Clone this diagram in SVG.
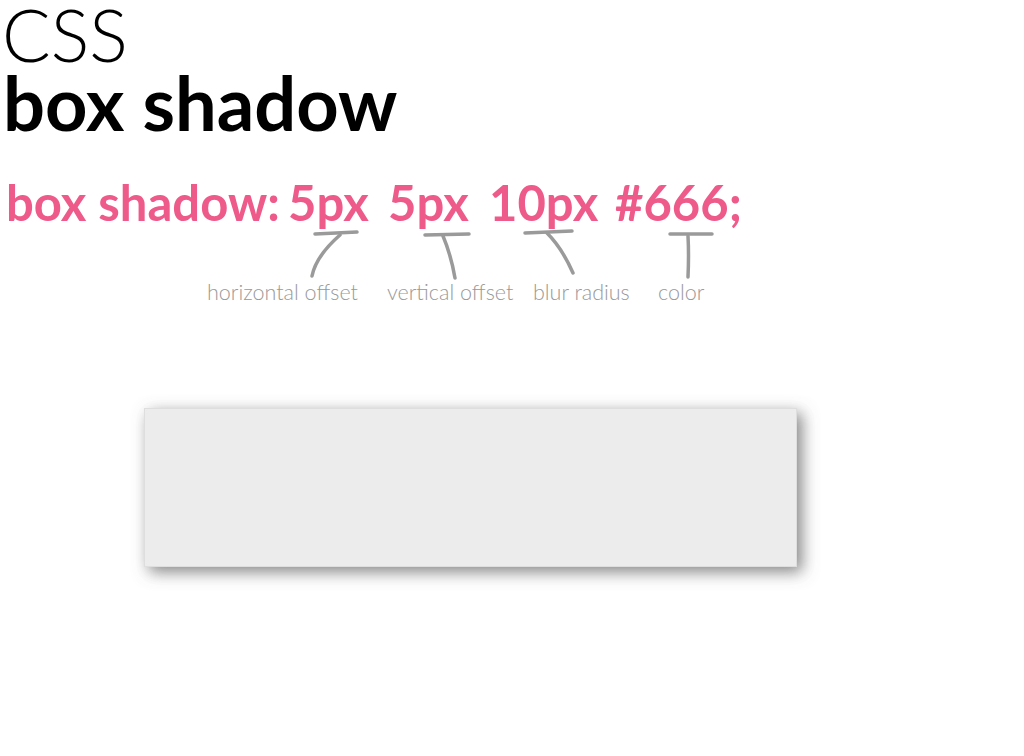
<svg xmlns="http://www.w3.org/2000/svg" width="1024" height="756" viewBox="0 0 1024 756">
<defs>
<style>
.t1{font-family:Lato,"Liberation Sans",sans-serif;font-weight:300;font-size:72px;fill:#000}
.t2{font-family:Lato,"Liberation Sans",sans-serif;font-weight:700;font-size:74px;fill:#000}
.pk{font-family:Lato,"Liberation Sans",sans-serif;font-weight:700;font-size:49px;fill:#ee5a8a}
.lb{font-family:Lato,"Liberation Sans",sans-serif;font-weight:300;font-size:21.5px;fill:#999}
.st{fill:none;stroke:#9a9a9a;stroke-width:3.5;stroke-linecap:round}
</style>
<filter id="sh" x="-15%" y="-40%" width="135%" height="190%">
<feDropShadow dx="5" dy="5" stdDeviation="8" flood-color="#666" flood-opacity="0.8"/>
</filter>
</defs>
<rect width="1024" height="756" fill="#fff"/>
<g id="title">
<text class="t1" x="2" y="62">CSS</text>
<text class="t2" x="3" y="131">box shadow</text>
</g>
<g id="code">
<text class="pk" x="6" y="221">box shadow:</text>
<text class="pk" x="288" y="221">5px</text>
<text class="pk" x="388" y="221">5px</text>
<text class="pk" x="489" y="221">10px</text>
<text class="pk" x="615" y="221">#666;</text>
</g>
<g id="connectors">
<path class="st" d="M315 234 L357 232"/>
<path class="st" d="M340 235 Q316 256 312 276"/>
<path class="st" d="M425 235 L469 234"/>
<path class="st" d="M443 236 Q451 255 455 278"/>
<path class="st" d="M525 233 L572 231"/>
<path class="st" d="M547 233 Q562 248 573 273"/>
<path class="st" d="M670 234 L712 234"/>
<path class="st" d="M688 236 Q689 255 688 277"/>
</g>
<g id="labels">
<text class="lb" x="207" y="300">horizontal offset</text>
<text class="lb" x="387" y="300">vertical offset</text>
<text class="lb" x="533" y="300">blur radius</text>
<text class="lb" x="658" y="300">color</text>
</g>
<g id="box">
<rect x="144" y="408" width="653" height="159" fill="#ececec" filter="url(#sh)"/>
<rect x="144.5" y="408.5" width="652" height="158" fill="none" stroke="#dedede" stroke-width="1"/>
</g>
</svg>
